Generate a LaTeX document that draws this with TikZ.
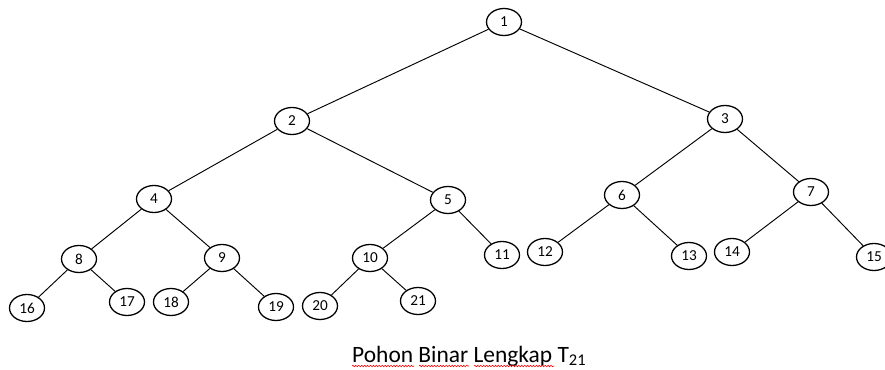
\documentclass[tikz,border=0pt]{standalone}
\usepackage{fontspec}
\setmainfont{Carlito}
\usetikzlibrary{shapes.geometric,decorations.pathmorphing}

\begin{document}
\begin{tikzpicture}[x=0.03cm, y=-0.03cm,
  vert/.style={ellipse, draw, line width=1.1pt, minimum width=35*0.03cm,
    minimum height=27*0.03cm, inner sep=0pt, font=\fontsize{13}{15}\selectfont},
  edge/.style={line width=0.8pt},
  squiggle/.style={red, line width=0.5pt, decorate,
    decoration={snake, amplitude=0.6pt, segment length=2.5pt}}]

\useasboundingbox (0,0) rectangle (885,370);

% root and second level
\node [vert] (n1) at (504,22) {1};
\node [vert] (n2) at (292,121) {2};
\node [vert] (n3) at (725,119) {3};

% third level
\node [vert] (n4) at (154,199) {4};
\node [vert] (n5) at (448,200) {5};
\node [vert] (n6) at (622,195) {6};
\node [vert] (n7) at (811,192) {7};

% fourth level
\node [vert] (n8) at (79,259) {8};
\node [vert] (n9) at (222,258) {9};
\node [vert] (n10) at (370,258) {10};
\node [vert] (n11) at (502,255) {11};
\node [vert] (n12) at (545,252) {12};
\node [vert] (n13) at (689,256) {13};
\node [vert] (n14) at (732,252) {14};
\node [vert] (n15) at (874,257) {15};

% fifth level
\node [vert] (n16) at (27,308) {16};
\node [vert] (n17) at (127,302) {17};
\node [vert] (n18) at (171,302) {18};
\node [vert] (n19) at (276,307) {19};
\node [vert] (n20) at (320,306) {20};
\node [vert] (n21) at (418,301) {21};

\draw [edge] (n1) -- (n2);
\draw [edge] (n1) -- (n3);
\draw [edge] (n2) -- (n4);
\draw [edge] (n2) -- (n5);
\draw [edge] (n3) -- (n6);
\draw [edge] (n3) -- (n7);
\draw [edge] (n4) -- (n8);
\draw [edge] (n4) -- (n9);
\draw [edge] (n5) -- (n10);
\draw [edge] (n5) -- (n11);
\draw [edge] (n6) -- (n12);
\draw [edge] (n6) -- (n13);
\draw [edge] (n7) -- (n14);
\draw [edge] (n7) -- (n15);
\draw [edge] (n8) -- (n16);
\draw [edge] (n8) -- (n17);
\draw [edge] (n9) -- (n18);
\draw [edge] (n9) -- (n19);
\draw [edge] (n10) -- (n20);
\draw [edge] (n10) -- (n21);

\node [anchor=base west, font=\fontsize{20}{22}\selectfont, inner sep=0pt] (caption) at (352,362)
  {Pohon Binar Lengkap T\textsubscript{21}};

% spell check marks
\draw [squiggle] (352,366) -- (414,366);
\draw [squiggle] (419,366) -- (469,366);
\draw [squiggle] (474,366) -- (554,366);

\end{tikzpicture}
\end{document}
